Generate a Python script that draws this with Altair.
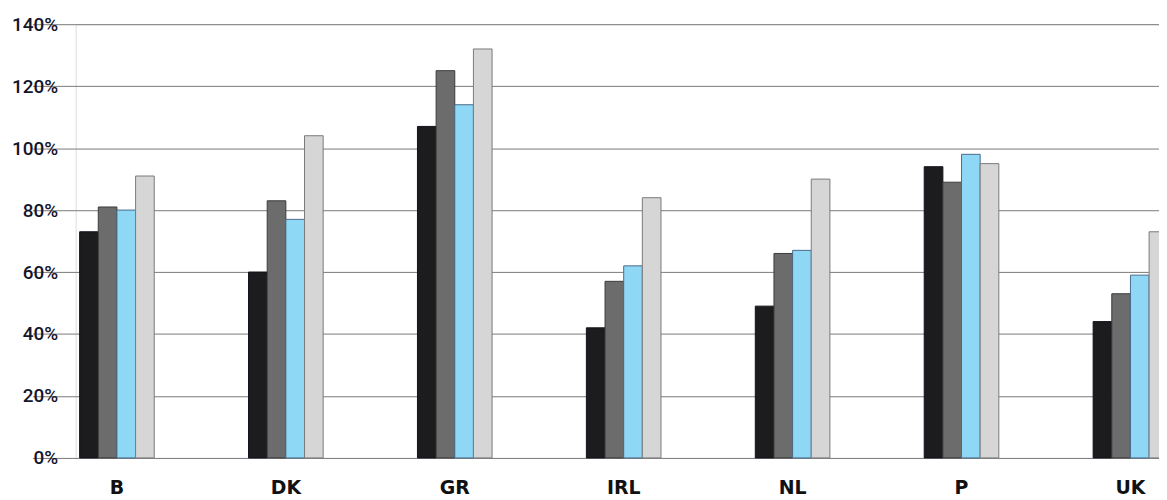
import altair as alt
import pandas as pd

countries = ["B", "DK", "GR", "IRL", "NL", "P", "UK"]
series = ["S1", "S2", "S3", "S4"]
s1 = [73, 60, 107, 42, 49, 94, 44]
s2 = [81, 83, 125, 57, 66, 89, 53]
s3 = [80, 77, 114, 62, 67, 98, 59]
s4 = [91, 104, 132, 84, 90, 95, 73]
y_ticks = [0, 20, 40, 60, 80, 100, 120, 140]

fills = ["#1c1c1e", "#6c6c6c", "#8fd8f5", "#d6d6d6"]
strokes = ["#10101a", "#3a3a3a", "#4a6a8a", "#7a7a7a"]

rows = []
for name, vals in zip(series, [s1, s2, s3, s4]):
    for c, v in zip(countries, vals):
        rows.append({"country": c, "series": name, "value": v})
df = pd.DataFrame(rows)

chart = alt.Chart(df).mark_bar(strokeWidth=1).encode(
    x=alt.X("country:N", sort=countries,
            scale=alt.Scale(range=[-43.4, 1145.2], paddingInner=0, paddingOuter=0),
            axis=alt.Axis(title=None, labelAngle=0, domain=False, ticks=False, grid=False,
                          domainOpacity=0, gridOpacity=0,
                          labelFont="DejaVu Sans", labelFontWeight="bold",
                          labelFontSize=19, labelPadding=21, labelColor="#111111")),
    xOffset=alt.XOffset("series:N", sort=series,
                        scale=alt.Scale(range=[47.4, 122.4], paddingInner=0, paddingOuter=0)),
    y=alt.Y("value:Q", scale=alt.Scale(domain=[0, 140]),
            axis=alt.Axis(title=None, values=y_ticks, labelExpr="datum.value + '%'",
                          domain=False, ticks=False, labelPadding=18, domainOpacity=0,
                          labelFont="Roboto", labelFontWeight=500, labelFontSize=19,
                          labelColor="#15152a", gridColor="#7a7a7a", gridWidth=1)),
    fill=alt.Fill("series:N", scale=alt.Scale(domain=series, range=fills), legend=None),
    stroke=alt.Stroke("series:N", scale=alt.Scale(domain=series, range=strokes), legend=None),
).properties(
    width=1089, height=436, autosize="none",
    padding={"left": 68, "top": 15, "right": 0, "bottom": 41},
).configure_view(strokeWidth=0, stroke="transparent", fill="white").configure_axis(domain=False).configure(background="white")

chart.save("out.html", embed_options={"renderer": "svg", "actions": False})
